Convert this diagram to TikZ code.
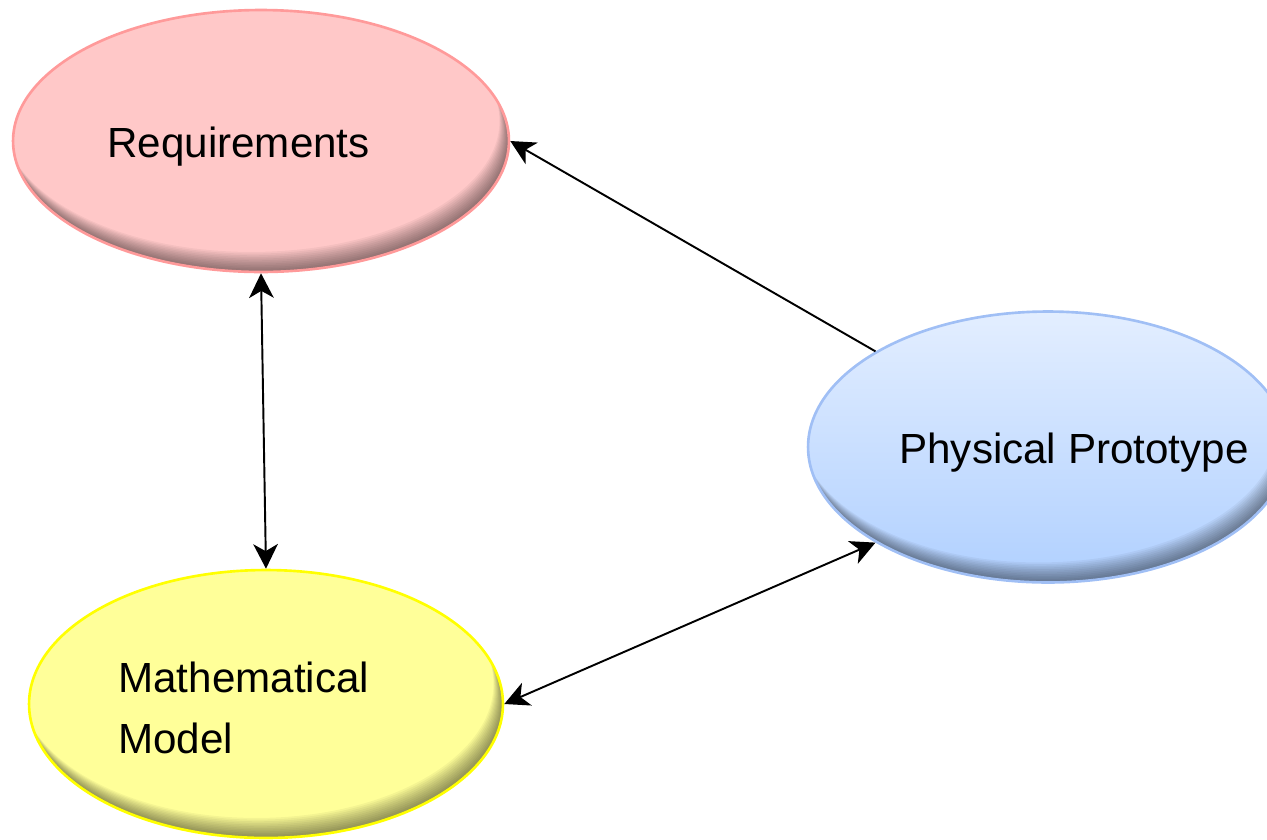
\documentclass[tikz,border=0pt]{standalone}
\usepackage{fontspec}
\setmainfont{Liberation Sans}
\usetikzlibrary{shapes.geometric,arrows.meta,calc}

\definecolor{reqfill}{HTML}{FFC8C8}
\definecolor{reqline}{HTML}{FF9A9A}
\definecolor{mathfill}{HTML}{FFFF99}
\definecolor{mathline}{HTML}{FFFF00}
\definecolor{phystop}{HTML}{E3EEFF}
\definecolor{physbot}{HTML}{B0D0FF}
\definecolor{physline}{HTML}{A0BFF5}

\tikzset{
    edgeshade/.style={path picture={
        \foreach \d in {1,...,12}{
            \fill[black, opacity=0.045, even odd rule]
                let \p1=(path picture bounding box.north east),
                    \p2=(path picture bounding box.center) in
                (\p2) ellipse [x radius={\x1-\x2}, y radius={\y1-\y2}]
                ([shift={(-0.45*\d pt, 0.95*\d pt)}]\p2) ellipse [x radius={\x1-\x2}, y radius={\y1-\y2}];
        }
    }},
    blob/.style={ellipse, inner sep=0pt, line width=1.5pt, edgeshade},
    label/.style={anchor=base west, inner sep=0pt, font=\fontsize{24}{34.7}\selectfont},
    conn/.style={line width=1.1pt, black,
        {Stealth[length=14pt, width=14pt, inset=4pt]}-{Stealth[length=14pt, width=14pt, inset=4pt]}},
    oneway/.style={line width=1.1pt, black, -{Stealth[length=14pt, width=14pt, inset=4pt]}}
}

\begin{document}
\begin{tikzpicture}[x=0.02cm, y=-0.02cm]
    \clip (0, 0) rectangle (1267, 839);

    % ellipses
    \node[blob, draw=reqline, fill=reqfill, minimum width=9.92cm, minimum height=5.24cm] (req) at (261, 141) {};
    \node[blob, draw=physline, top color=phystop, bottom color=physbot, minimum width=9.6cm, minimum height=5.42cm] (phys) at (1048, 447) {};
    \node[blob, draw=mathline, fill=mathfill, minimum width=9.48cm, minimum height=5.36cm] (math) at (266, 704) {};

    % texts
    \node[label] (reqtext) at (107, 157) {Requirements};
    \node[label] (phystext) at (899, 463) {Physical Prototype};
    \node[label, align=left] (mathtext) at (118, 753) {Mathematical\\Model};

    % arrows
    \draw[oneway] (phys.151) -- (req.east);
    \draw[conn] (req.south) -- (math.north);
    \draw[conn] (math.east) -- (phys.209);
\end{tikzpicture}
\end{document}
